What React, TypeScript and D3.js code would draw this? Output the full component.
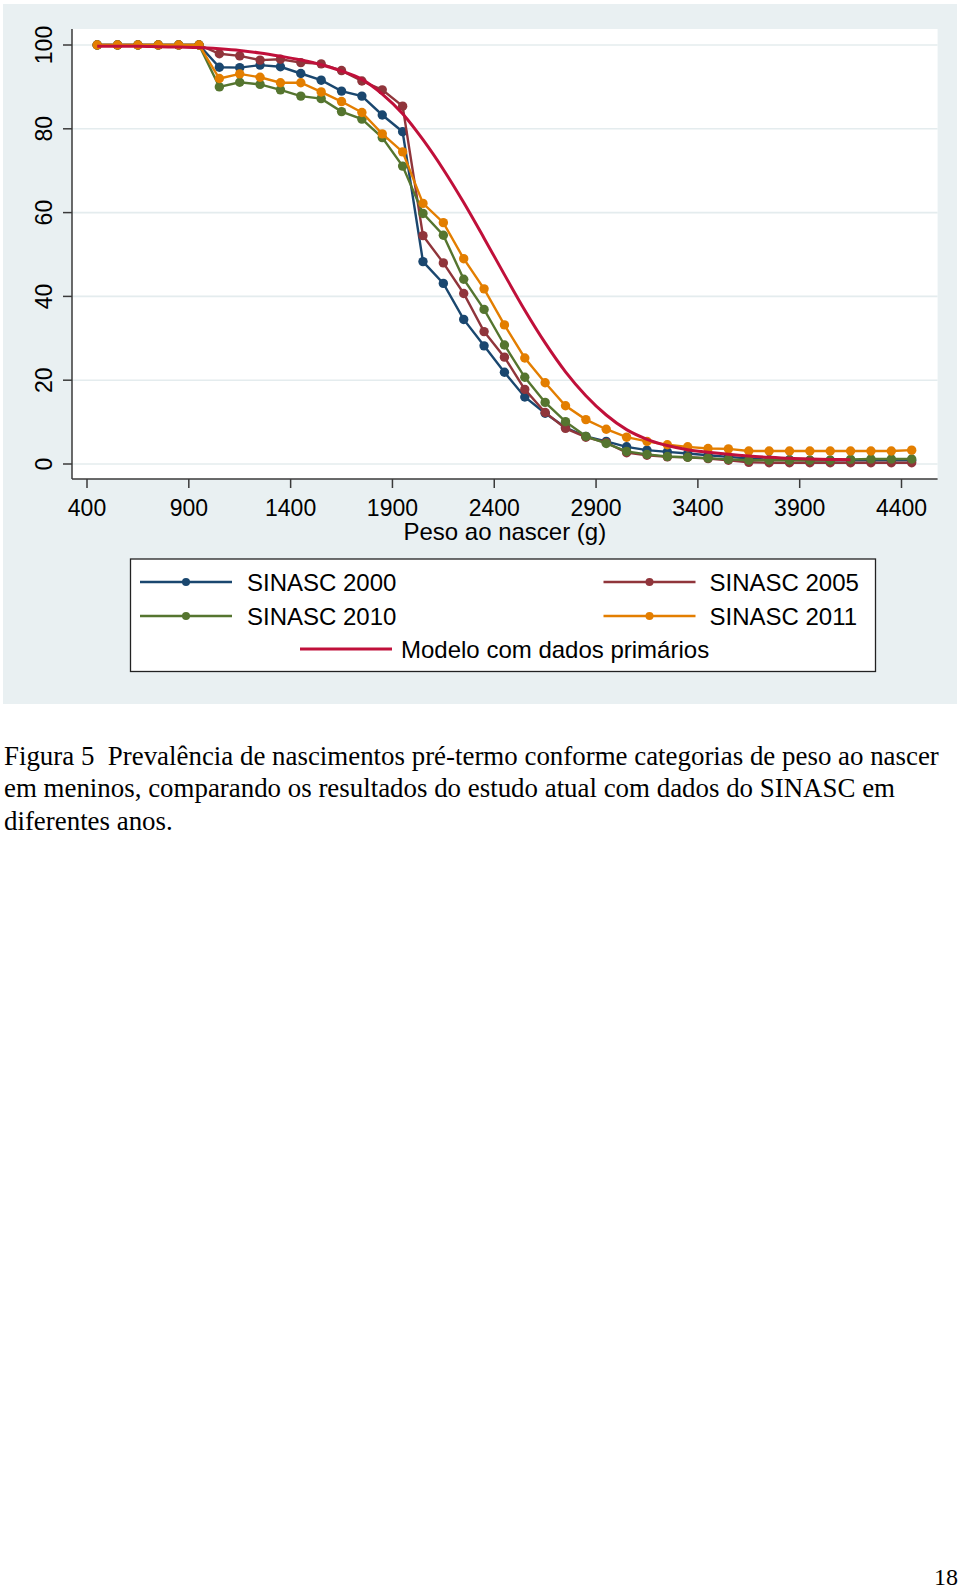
import React from "react";
import * as d3 from "d3";

// Birth weight categories (g), midpoints
const weights = [450, 550, 650, 750, 850, 950, 1050, 1150, 1250, 1350, 1450, 1550, 1650, 1750, 1850, 1950, 2050, 2150, 2250, 2350, 2450, 2550, 2650, 2750, 2850, 2950, 3050, 3150, 3250, 3350, 3450, 3550, 3650, 3750, 3850, 3950, 4050, 4150, 4250, 4350, 4450];

const sinasc2000 = [100, 100, 100, 100, 100, 100, 94.7, 94.6, 95.2, 94.8, 93.2, 91.6, 89.0, 87.8, 83.3, 79.3, 48.3, 43.1, 34.5, 28.2, 21.9, 16.0, 12.1, 8.7, 6.6, 5.4, 4.1, 3.3, 2.9, 2.5, 2.1, 1.7, 1.3, 1.0, 1.0, 0.9, 0.9, 0.9, 0.9, 0.9, 0.9];
const sinasc2005 = [100, 100, 100, 100, 100, 100, 97.9, 97.4, 96.4, 96.6, 95.8, 95.5, 93.9, 91.4, 89.3, 85.4, 54.5, 48.0, 40.7, 31.6, 25.5, 17.8, 12.3, 8.5, 6.4, 5.1, 2.7, 2.1, 1.7, 1.6, 1.3, 0.9, 0.4, 0.3, 0.3, 0.3, 0.3, 0.3, 0.3, 0.3, 0.3];
const sinasc2010 = [100, 100, 100, 100, 100, 100, 90.0, 91.1, 90.6, 89.3, 87.8, 87.2, 84.1, 82.3, 77.9, 71.1, 59.8, 54.6, 44.1, 36.9, 28.4, 20.7, 14.7, 10.1, 6.6, 4.9, 3.0, 2.3, 1.8, 1.6, 1.4, 1.1, 0.9, 0.9, 0.9, 0.9, 0.9, 1.1, 1.2, 1.2, 1.2];
const sinasc2011 = [100, 100, 100, 100, 100, 100, 92.0, 93.1, 92.3, 91.0, 91.0, 88.8, 86.5, 83.9, 78.8, 74.5, 62.2, 57.6, 49.0, 41.8, 33.2, 25.3, 19.4, 13.9, 10.6, 8.3, 6.4, 5.4, 4.6, 4.1, 3.7, 3.6, 3.1, 3.1, 3.1, 3.1, 3.1, 3.1, 3.1, 3.1, 3.3];

// Model with primary data (smooth curve)
const modelWeights = [450, 550, 650, 750, 850, 950, 1050, 1150, 1250, 1350, 1450, 1550, 1650, 1750, 1850, 1950, 2050, 2150, 2250, 2350, 2450, 2550, 2650, 2750, 2850, 2950, 3050, 3150, 3250, 3350, 3450, 3550, 3650, 3750, 3850, 3950, 4050, 4150];
const modelValues = [99.7, 99.7, 99.7, 99.6, 99.5, 99.4, 99.1, 98.7, 98.1, 97.3, 96.4, 95.3, 93.8, 91.8, 88.3, 83.6, 77.4, 70.3, 62.4, 53.9, 45.2, 36.7, 28.9, 22.0, 16.3, 11.7, 8.2, 5.9, 4.4, 3.4, 2.8, 2.3, 1.9, 1.6, 1.35, 1.2, 1.1, 1.0];

const xTicks = [400, 900, 1400, 1900, 2400, 2900, 3400, 3900, 4400];
const yTicks = [0, 20, 40, 60, 80, 100];

const seriesNames = ["SINASC 2000", "SINASC 2005", "SINASC 2010", "SINASC 2011"];
const seriesColors = ["#1a476f", "#90353b", "#55752f", "#e37e00"];
const modelName = "Modelo com dados primários";
const modelColor = "#c0103a";

const captionLines = [
  "Figura 5  Prevalência de nascimentos pré-termo conforme categorias de peso ao nascer",
  "em meninos, comparando os resultados do estudo atual com dados do SINASC em",
  "diferentes anos.",
];
const pageNumber = "18";

export default function App() {
  const W = 960;
  const H = 1590;
  const plot = { left: 72, top: 29, right: 937.6, bottom: 479 };
  const x = d3.scaleLinear().domain([400, 4400]).range([87, 901.5]);
  const y = d3.scaleLinear().domain([0, 100]).range([464, 45]);

  const allSeries = [sinasc2000, sinasc2005, sinasc2010, sinasc2011];
  const line = d3
    .line<[number, number]>()
    .x((d) => x(d[0]))
    .y((d) => y(d[1]));
  const smooth = d3
    .line<[number, number]>()
    .x((d) => x(d[0]))
    .y((d) => y(d[1]))
    .curve(d3.curveMonotoneX);

  const sans = "'Liberation Sans', Arial, sans-serif";
  const serif = "'Liberation Serif', 'Times New Roman', serif";
  const axisColor = "#3a3a3a";
  const gridColor = "#e4ecee";

  const legendRows = [
    { y: 582, items: [{ i: 0, lx: 140, tx: 247 }, { i: 1, lx: 603.5, tx: 709.5 }] },
    { y: 616, items: [{ i: 2, lx: 140, tx: 247 }, { i: 3, lx: 603.5, tx: 709.5 }] },
  ];

  return (
    <svg
      width={W}
      height={H}
      style={{ position: "absolute", left: 0, top: 0, background: "#ffffff" }}
    >
      {/* graph region */}
      <rect x={3} y={4} width={954} height={700} fill="#e9f0f2" />
      {/* plot region */}
      <rect
        x={plot.left}
        y={plot.top}
        width={plot.right - plot.left}
        height={plot.bottom - plot.top}
        fill="#ffffff"
      />
      {/* grid */}
      {yTicks.map((t) => (
        <line
          key={"g" + t}
          x1={plot.left}
          x2={plot.right}
          y1={y(t)}
          y2={y(t)}
          stroke={gridColor}
          strokeWidth={1.6}
        />
      ))}
      {/* axes */}
      <line x1={plot.left} x2={plot.left} y1={plot.top} y2={plot.bottom} stroke={axisColor} strokeWidth={1.5} />
      <line x1={plot.left} x2={plot.right} y1={plot.bottom} y2={plot.bottom} stroke={axisColor} strokeWidth={1.5} />
      {yTicks.map((t) => (
        <g key={"yt" + t}>
          <line x1={plot.left - 9} x2={plot.left} y1={y(t)} y2={y(t)} stroke={axisColor} strokeWidth={1.5} />
          <text
            transform={`translate(51.5,${y(t)}) rotate(-90)`}
            textAnchor="middle"
            fontFamily={sans}
            fontSize={23}
            fill="#000"
          >
            {t}
          </text>
        </g>
      ))}
      {xTicks.map((t) => (
        <g key={"xt" + t}>
          <line x1={x(t)} x2={x(t)} y1={plot.bottom} y2={plot.bottom + 9} stroke={axisColor} strokeWidth={1.5} />
          <text x={x(t)} y={516} textAnchor="middle" fontFamily={sans} fontSize={23} fill="#000">
            {t}
          </text>
        </g>
      ))}
      <text
        x={(plot.left + plot.right) / 2}
        y={540}
        textAnchor="middle"
        fontFamily={sans}
        fontSize={24}
        fill="#000"
      >
        Peso ao nascer (g)
      </text>

      {/* series */}
      {allSeries.map((vals, si) => {
        const pts: [number, number][] = weights.map((w, i) => [w, vals[i]]);
        return (
          <g key={"s" + si}>
            <path d={line(pts) || ""} fill="none" stroke={seriesColors[si]} strokeWidth={2.4} />
            {pts.map((p, i) => (
              <circle key={i} cx={x(p[0])} cy={y(p[1])} r={4.7} fill={seriesColors[si]} />
            ))}
          </g>
        );
      })}
      {/* model */}
      <path
        d={smooth(modelWeights.map((w, i) => [w, modelValues[i]] as [number, number])) || ""}
        fill="none"
        stroke={modelColor}
        strokeWidth={3}
      />

      {/* legend */}
      <rect x={130.5} y={559} width={745} height={112.5} fill="#ffffff" stroke="#222" strokeWidth={1.3} />
      {legendRows.map((row, ri) =>
        row.items.map((it) => (
          <g key={`l${ri}-${it.i}`}>
            <line x1={it.lx} x2={it.lx + 92} y1={row.y} y2={row.y} stroke={seriesColors[it.i]} strokeWidth={2.4} />
            <circle cx={it.lx + 46} cy={row.y} r={4} fill={seriesColors[it.i]} />
            <text x={it.tx} y={row.y + 8.6} fontFamily={sans} fontSize={24} fill="#000">
              {seriesNames[it.i]}
            </text>
          </g>
        ))
      )}
      <line x1={300} x2={392} y1={649} y2={649} stroke={modelColor} strokeWidth={3} />
      <text x={401} y={657.8} fontFamily={sans} fontSize={24} fill="#000">
        {modelName}
      </text>

      {/* caption */}
      {captionLines.map((c, i) => (
        <text
          key={"c" + i}
          x={4}
          y={765 + i * 32.3}
          fontFamily={serif}
          fontSize={26.9}
          fill="#000"
          style={{ whiteSpace: "pre" }}
        >
          {c}
        </text>
      ))}
      <text x={958} y={1585} textAnchor="end" fontFamily={serif} fontSize={24} fill="#000">
        {pageNumber}
      </text>
    </svg>
  );
}
